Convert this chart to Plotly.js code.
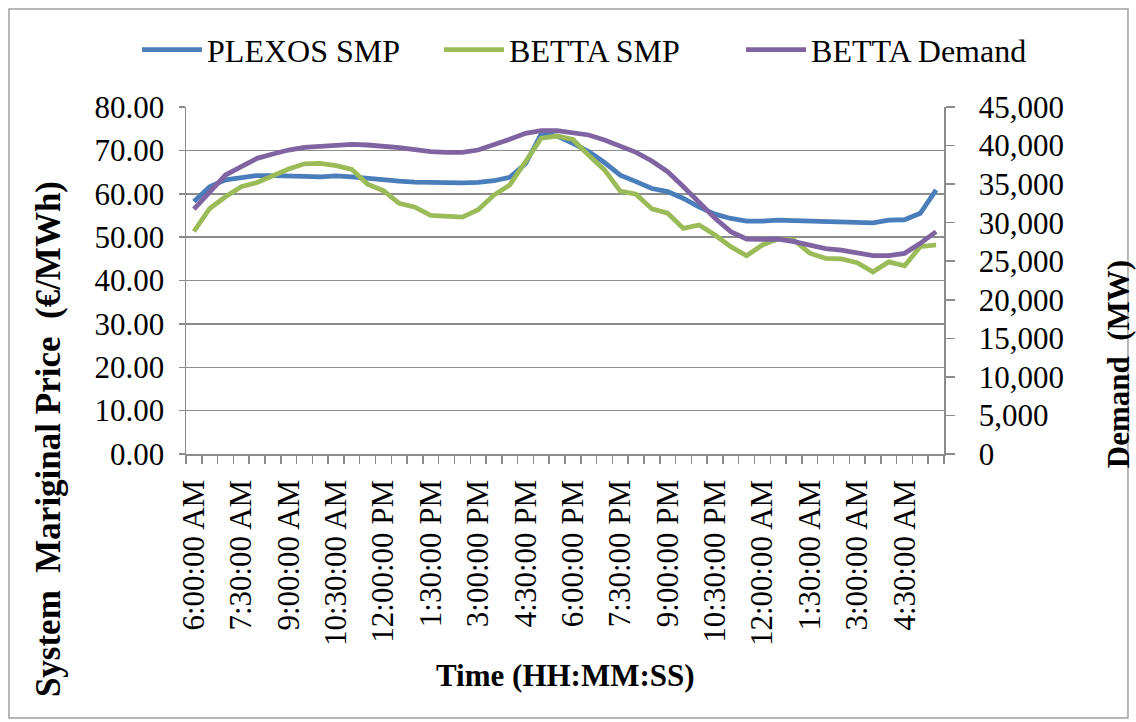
<!DOCTYPE html>
<html>
<head>
<meta charset="utf-8">
<script src="https://cdn.plot.ly/plotly-3.0.1.min.js"></script>
<style>html,body{margin:0;padding:0;background:#fff;}#chart{width:1136px;height:722px;}</style>
</head>
<body>
<div id="chart"></div>
<script>
const times = [
  "6:00:00 AM","6:30:00 AM","7:00:00 AM","7:30:00 AM","8:00:00 AM","8:30:00 AM",
  "9:00:00 AM","9:30:00 AM","10:00:00 AM","10:30:00 AM","11:00:00 AM","11:30:00 AM",
  "12:00:00 PM","12:30:00 PM","1:00:00 PM","1:30:00 PM","2:00:00 PM","2:30:00 PM",
  "3:00:00 PM","3:30:00 PM","4:00:00 PM","4:30:00 PM","5:00:00 PM","5:30:00 PM",
  "6:00:00 PM","6:30:00 PM","7:00:00 PM","7:30:00 PM","8:00:00 PM","8:30:00 PM",
  "9:00:00 PM","9:30:00 PM","10:00:00 PM","10:30:00 PM","11:00:00 PM","11:30:00 PM",
  "12:00:00 AM","12:30:00 AM","1:00:00 AM","1:30:00 AM","2:00:00 AM","2:30:00 AM",
  "3:00:00 AM","3:30:00 AM","4:00:00 AM","4:30:00 AM","5:00:00 AM","5:30:00 AM"
];
const plexosSMP = [
  58.2,61.6,63.2,63.7,64.2,64.2,64.2,64.0,63.9,64.1,63.9,63.5,
  63.3,62.9,62.7,62.6,62.5,62.5,62.6,63.0,63.8,66.9,73.8,73.3,
  71.6,69.7,67.2,64.3,62.8,61.2,60.5,58.9,56.9,55.3,54.3,53.7,
  53.7,53.9,53.8,53.7,53.6,53.6,53.5,53.3,53.9,54.0,55.5,60.9
];
const bettaSMP = [
  51.3,56.6,59.3,61.6,62.6,64.3,65.7,66.9,67.0,66.5,65.6,62.2,
  60.7,57.8,56.9,55.0,54.7,54.6,56.3,59.7,62.0,67.4,72.8,73.3,
  72.5,68.9,65.5,60.6,59.9,56.5,55.5,52.0,52.8,50.5,47.8,45.7,
  48.2,49.6,49.3,46.3,45.1,45.0,44.1,42.0,44.3,43.4,47.8,48.2
];
const bettaDemand = [
  31770,34010,36180,37260,38340,38900,39420,39770,39940,40070,40160,40070,
  39940,39720,39460,39200,39120,39120,39420,40070,40810,41590,41930,41930,
  41720,41370,40720,39940,39120,38000,36610,34660,32510,30570,28830,27880,
  27840,27880,27530,27010,26630,26450,26110,25720,25720,26020,27320,28830
];
const seriesNames = ["PLEXOS SMP","BETTA SMP","BETTA Demand"];
const seriesColors = ["#4A7EBB","#9BBB59","#8064A2"];

const idx = times.map((_, i) => i);
const labelIdx = idx.filter(i => i % 3 === 0);
const labelText = labelIdx.map(i => times[i]);

const FONT = "Liberation Serif, Tinos, DejaVu Serif, serif";
const GRID = "#8c8c8c";
const TICK = 31;

const traces = [
  {x: idx, y: plexosSMP, name: seriesNames[0], type: "scatter", mode: "lines",
   line: {color: seriesColors[0], width: 4.8}, yaxis: "y"},
  {x: idx, y: bettaSMP, name: seriesNames[1], type: "scatter", mode: "lines",
   line: {color: seriesColors[1], width: 4.8}, yaxis: "y"},
  {x: idx, y: bettaDemand, name: seriesNames[2], type: "scatter", mode: "lines",
   line: {color: seriesColors[2], width: 4.8}, yaxis: "y2"}
];

const layout = {
  width: 1136, height: 722,
  margin: {l: 186, r: 192, t: 107, b: 268},
  paper_bgcolor: "#fff", plot_bgcolor: "#fff",
  font: {family: FONT, color: "#000", size: 28},
  showlegend: true,
  legend: {orientation: "h", x: -0.0646, xanchor: "left", y: 1.165, yanchor: "middle",
           font: {family: FONT, size: 32, color: "#000"}, itemwidth: 60,
           entrywidth: 227, entrywidthmode: "pixels", traceorder: "normal"},
  xaxis: {
    range: [-0.5, 47.5], tickmode: "array", tickvals: labelIdx, ticktext: labelText,
    tickangle: -90, ticks: "", showgrid: false, zeroline: false,
    showline: true, linecolor: GRID, linewidth: 1.5, ticklabelstandoff: 12,
    tickfont: {family: FONT, size: TICK, color: "#000"},
    minor: {tickmode: "linear", tick0: -0.5, dtick: 1, ticks: "outside", ticklen: 8,
            tickcolor: GRID, tickwidth: 1.5, showgrid: false}
  },
  yaxis: {
    range: [0, 80], dtick: 10, tick0: 0, tickformat: ".2f",
    showgrid: true, gridcolor: GRID, gridwidth: 1.5, zeroline: false,
    showline: true, linecolor: GRID, linewidth: 1.5,
    ticks: "outside", ticklen: 6, tickcolor: GRID, tickwidth: 1.5, ticklabelstandoff: 8,
    tickfont: {family: FONT, size: TICK, color: "#000"}
  },
  yaxis2: {
    range: [0, 45000], dtick: 5000, tick0: 0, tickformat: ",d",
    overlaying: "y", side: "right", showgrid: false, zeroline: false,
    showline: true, linecolor: GRID, linewidth: 1.5,
    ticks: "outside", ticklen: 9, tickcolor: GRID, tickwidth: 1.5, ticklabelstandoff: 18,
    tickfont: {family: FONT, size: TICK, color: "#000"}
  },
  annotations: [
    {text: "<b>System\u00a0\u00a0Mariginal Price\u00a0\u00a0(€/MWh)</b>", xref: "paper", yref: "paper",
     x: -0.182, y: 0.043, textangle: -90, showarrow: false, xanchor: "center", yanchor: "middle",
     font: {family: FONT, size: 35, color: "#000"}},
    {text: "<b>Demand\u00a0\u00a0(MW)</b>", xref: "paper", yref: "paper",
     x: 1.2296, y: 0.259, textangle: -90, showarrow: false, xanchor: "center", yanchor: "middle",
     font: {family: FONT, size: 31, color: "#000"}},
    {text: "<b>Time (HH:MM:SS)</b>", xref: "paper", yref: "paper",
     x: 0.5, y: -0.638, showarrow: false, xanchor: "center", yanchor: "middle",
     font: {family: FONT, size: 31, color: "#000"}}
  ],
  shapes: [
    {type: "rect", xref: "paper", yref: "paper", x0: -0.2335, x1: 1.2427, y0: -0.7608, y1: 1.2824,
     line: {color: "#a0a0a0", width: 1.5}, fillcolor: "rgba(0,0,0,0)", layer: "below"}
  ]
};

Plotly.newPlot("chart", traces, layout, {displayModeBar: false, staticPlot: true});
</script>
</body>
</html>
